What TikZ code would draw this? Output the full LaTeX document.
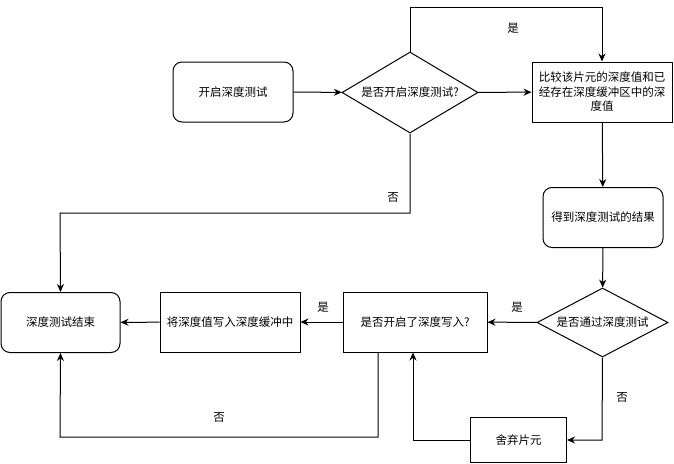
\documentclass[tikz,border=0pt]{standalone}
\usepackage{fontspec}
\newfontfamily\cjk{Noto Sans CJK SC}
\usetikzlibrary{shapes.geometric,arrows.meta}
\newcommand\ctrline[1]{\makebox[130pt][c]{#1}}
\begin{document}
\begin{tikzpicture}[x=1pt,y=-1pt,
  every node/.style={font=\cjk\fontsize{11.5}{14.5}\selectfont},
  rbox/.style={draw, line width=1pt, rounded corners=9pt, minimum width=120pt, minimum height=60pt, inner sep=2pt, align=center},
  pbox/.style={draw, line width=1pt, minimum height=60pt, inner sep=2pt, align=center},
  dia/.style={draw, line width=1pt, diamond, aspect=1.8, inner sep=0pt},
  conn/.style={line width=1pt, -{Stealth[length=8pt,width=7pt]}},
  lbl/.style={inner sep=1pt}]
\useasboundingbox (0,0) rectangle (674,463);
\node[rbox] (start) at (233,92) {开启深度测试};
\node[dia, minimum width=136pt, minimum height=81pt] (d1) at (410,92.5) {是否开启深度测试?};
\node[pbox, minimum width=140pt] (cmp) at (602,92) {\ctrline{比较该片元的深度值和已}\\\ctrline{经存在深度缓冲区中的深}\\\ctrline{度值}};
\node[rbox] (res) at (603,217.5) {得到深度测试的结果};
\node[dia, minimum width=131pt, minimum height=69pt] (d2) at (602.5,322.5) {是否通过深度测试};
\node[pbox, minimum width=144pt] (dw) at (415,322) {是否开启了深度写入?};
\node[pbox, minimum width=140pt] (wr) at (230,322) {将深度值写入深度缓冲中};
\node[rbox, minimum width=119pt] (end) at (60.5,322.5) {深度测试结束};
\node[pbox, minimum width=96pt, minimum height=45pt] (disc) at (518.5,440) {舍弃片元};

\coordinate (c1) at (410,7);
\coordinate (c2) at (602,7);
\coordinate (c3) at (410,213);
\coordinate (c4) at (60,213);
\coordinate (c5) at (378,437);
\coordinate (c6) at (60,437);
\coordinate (c7) at (602,440);
\coordinate (c8) at (413,440);

\draw[conn] (start) -- (d1);
\draw[conn] (d1) -- (cmp);
\draw[conn] (d1.north) -- (c1) -- (c2) -- (cmp.north);
\draw[conn] (cmp) -- (res);
\draw[conn] (res) -- (d2);
\draw[conn] (d2) -- (dw);
\draw[conn] (dw) -- (wr);
\draw[conn] (wr) -- (end);
\draw[conn] (d1.south) -- (c3) -- (c4) -- (end.north);
\draw[conn] (dw.south -| c5) -- (c5) -- (c6) -- (end.south);
\draw[conn] (d2.south) -- (c7) -- (disc.east);
\draw[conn] (disc.west) -- (c8) -- (dw.south -| c8);

\node[lbl] (l1) at (513,28) {是};
\node[lbl] (l2) at (393,197) {否};
\node[lbl] (l3) at (517,307) {是};
\node[lbl] (l4) at (323,307) {是};
\node[lbl] (l5) at (219,417) {否};
\node[lbl] (l6) at (622,397) {否};
\end{tikzpicture}
\end{document}
